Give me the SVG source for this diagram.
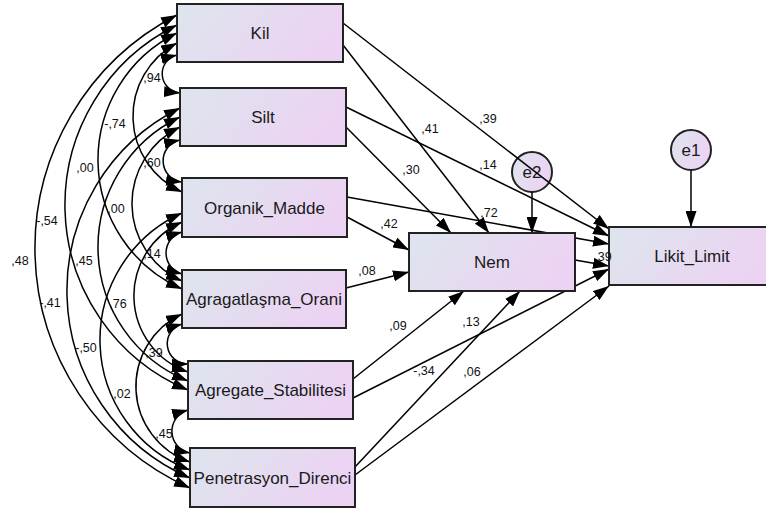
<svg xmlns="http://www.w3.org/2000/svg" width="766" height="510" viewBox="0 0 766 510">
<defs>
<linearGradient id="g" x1="0" y1="0" x2="1" y2="0.3">
<stop offset="0" stop-color="#dde5ed"/>
<stop offset="1" stop-color="#ecd3f3"/>
</linearGradient>
<marker id="ah" viewBox="0 0 16 11" refX="16" refY="5.5" markerWidth="16" markerHeight="11" markerUnits="userSpaceOnUse" orient="auto-start-reverse">
<path d="M0,0 L16,5.5 L0,11 z" fill="#000"/>
</marker>
<style>
.c{fill:none;stroke:#000;stroke-width:1.5;marker-end:url(#ah)}
.d{fill:none;stroke:#000;stroke-width:1.5;marker-start:url(#ah);marker-end:url(#ah)}
.box{fill:url(#g);stroke:#222;stroke-width:2}
.t{font-family:"Liberation Sans",Arial,sans-serif;font-size:17px;fill:#1a1a1a;text-anchor:middle}
.l{font-family:"Liberation Sans",Arial,sans-serif;font-size:12.5px;fill:#111;text-anchor:middle}
</style>
</defs>
<rect width="766" height="510" fill="#fff"/>
<g id="e2"><circle class="box" cx="532" cy="172" r="20"/><text class="t" x="532" y="178">e2</text></g>
<g id="connectors">
<path class="d" d="M177,55 A19.3,19.3 0 0 0 180,93"/>
<path class="d" d="M177,43 A83,83 0 0 0 182,192"/>
<path class="d" d="M177,33 A141.3,141.3 0 0 0 182,289"/>
<path class="d" d="M177,25 A200.6,200.6 0 0 0 188,390"/>
<path class="d" d="M177,15 A262.7,262.7 0 0 0 190,488"/>
<path class="d" d="M180,140 A21.3,21.3 0 0 0 182,182"/>
<path class="d" d="M180,127 A85,85 0 0 0 182,281"/>
<path class="d" d="M180,117 A144.4,144.4 0 0 0 188,381"/>
<path class="d" d="M180,108 A204.1,204.1 0 0 0 190,478"/>
<path class="d" d="M182,232 A21.8,21.8 0 0 0 182,274"/>
<path class="d" d="M182,222 A80.7,80.7 0 0 0 188,372"/>
<path class="d" d="M182,213 A139.1,139.1 0 0 0 190,470"/>
<path class="d" d="M182,324 A20.4,20.4 0 0 0 188,364"/>
<path class="d" d="M182,314 A79.9,79.9 0 0 0 190,462"/>
<path class="d" d="M188,410 A22.1,22.1 0 0 0 190,453"/>
<path class="c" d="M343,23 L609,229"/>
<path class="c" d="M343,45 L489,233"/>
<path class="c" d="M346,107 L609,236"/>
<path class="c" d="M346,127 L451,233"/>
<path class="c" d="M347,197 L609,244"/>
<path class="c" d="M347,217 L409,250"/>
<path class="c" d="M346,288 L409,272"/>
<path class="c" d="M353,379 L464,291"/>
<path class="c" d="M353,398 L609,269"/>
<path class="c" d="M355,467 L520,291"/>
<path class="c" d="M355,475 L609,286"/>
<path class="c" d="M575,260 L609,266"/>
<path class="c" d="M532,192 L532,233"/>
<path class="c" d="M691,170 L691,227"/>
</g>
<g id="Kil"><rect class="box" x="177" y="4" width="166" height="58"/><text class="t" x="260" y="39">Kil</text></g>
<g id="Silt"><rect class="box" x="180" y="88" width="166" height="58"/><text class="t" x="263" y="123">Silt</text></g>
<g id="Organik_Madde"><rect class="box" x="182" y="178" width="165" height="59"/><text class="t" x="264.5" y="213.5">Organik_Madde</text></g>
<g id="Agragatlasma_Orani"><rect class="box" x="182" y="270" width="164" height="58"/><text class="t" x="264" y="305">Agragatlaşma_Orani</text></g>
<g id="Agregate_Stabilitesi"><rect class="box" x="188" y="361" width="165" height="58"/><text class="t" x="270.5" y="396">Agregate_Stabilitesi</text></g>
<g id="Penetrasyon_Direnci"><rect class="box" x="190" y="448" width="165" height="59"/><text class="t" x="272.5" y="483.5">Penetrasyon_Direnci</text></g>
<g id="Nem"><rect class="box" x="409" y="233" width="166" height="58"/><text class="t" x="492" y="268">Nem</text></g>
<g id="Likit_Limit"><rect class="box" x="609" y="227" width="166" height="58"/><text class="t" x="692" y="262">Likit_Limit</text></g>
<g id="e1"><circle class="box" cx="691" cy="150" r="20"/><text class="t" x="691" y="156">e1</text></g>
<g id="labels">
<text class="l" x="152" y="81.5">,94</text>
<text class="l" x="115" y="127.5">-,74</text>
<text class="l" x="85" y="172">,00</text>
<text class="l" x="47" y="224.5">-,54</text>
<text class="l" x="152" y="166.5">,60</text>
<text class="l" x="116" y="212.5">,00</text>
<text class="l" x="20" y="264.5">,48</text>
<text class="l" x="84" y="264.5">,45</text>
<text class="l" x="152" y="257.5">,14</text>
<text class="l" x="50" y="306.5">-,41</text>
<text class="l" x="118" y="307.5">,76</text>
<text class="l" x="86" y="351.5">-,50</text>
<text class="l" x="154" y="356.5">,39</text>
<text class="l" x="122" y="397.5">,02</text>
<text class="l" x="164" y="437.5">,45</text>
<text class="l" x="430" y="132.5">,41</text>
<text class="l" x="488" y="122.5">,39</text>
<text class="l" x="411" y="173.5">,30</text>
<text class="l" x="488" y="168.5">,14</text>
<text class="l" x="489" y="216.5">,72</text>
<text class="l" x="389" y="227.5">,42</text>
<text class="l" x="367" y="274.5">,08</text>
<text class="l" x="603" y="260.5">,39</text>
<text class="l" x="398" y="329.5">,09</text>
<text class="l" x="471" y="325.5">,13</text>
<text class="l" x="424" y="374.5">-,34</text>
<text class="l" x="472" y="375.5">,06</text>
</g>
</svg>
